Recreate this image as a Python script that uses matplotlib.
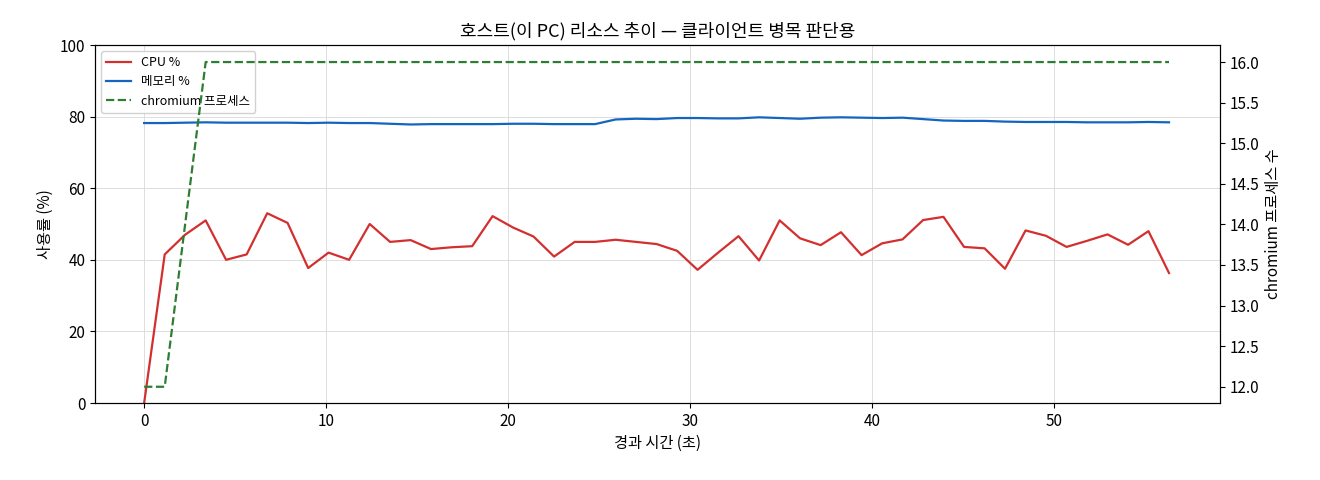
import matplotlib
matplotlib.use("Agg")
import matplotlib.pyplot as plt

plt.rcParams['font.family'] = ['Noto Sans CJK KR', 'DejaVu Sans']

t = [0.0, 1.13, 2.25, 3.38, 4.5, 5.63, 6.76, 7.88, 9.01, 10.13, 11.26, 12.39, 13.51, 14.64, 15.76,
     16.89, 18.02, 19.14, 20.27, 21.39, 22.52, 23.65, 24.77, 25.9, 27.02, 28.15, 29.28, 30.4, 31.53,
     32.65, 33.78, 34.91, 36.03, 37.16, 38.28, 39.41, 40.54, 41.66, 42.79, 43.91, 45.04, 46.17,
     47.29, 48.42, 49.54, 50.67, 51.8, 52.92, 54.05, 55.17, 56.3]
cpu = [0, 41.5, 47, 51, 40, 41.5, 53, 50.3, 37.7, 42, 40, 50, 45, 45.5, 43, 43.5, 43.8, 52.2, 49,
       46.5, 40.9, 45, 45, 45.6, 45, 44.4, 42.5, 37.2, 42, 46.6, 39.8, 51, 46, 44.1, 47.7, 41.3,
       44.6, 45.7, 51.1, 52, 43.6, 43.2, 37.5, 48.2, 46.7, 43.6, 45.3, 47.1, 44.2, 48, 36.3]
mem = [78.2, 78.2, 78.3, 78.4, 78.3, 78.3, 78.3, 78.3, 78.2, 78.3, 78.2, 78.2, 78.0, 77.8, 77.9,
       77.9, 77.9, 77.9, 78.0, 78.0, 77.9, 77.9, 77.9, 79.2, 79.4, 79.3, 79.6, 79.6, 79.5, 79.5,
       79.8, 79.6, 79.4, 79.7, 79.8, 79.7, 79.6, 79.7, 79.3, 78.9, 78.8, 78.8, 78.6, 78.5, 78.5,
       78.5, 78.4, 78.4, 78.4, 78.5, 78.4]
proc = [12, 12, 14, 16] + [16] * 47

fig = plt.figure(figsize=(13.2, 4.8), dpi=100)
ax = fig.add_axes([95/1320, 77/480, 1125/1320, 358/480])
l1, = ax.plot(t, cpu, color='#d32f2f', lw=1.6, label='CPU %')
l2, = ax.plot(t, mem, color='#1565c0', lw=1.6, label='메모리 %')
ax.set_ylim(0, 100)
ax.set_xlim(-2.7, 59.1)
ax.grid(True, color='#dddddd', lw=0.7)
ax.set_xlabel('경과 시간 (초)', fontsize=11)
ax.set_ylabel('사용률 (%)', fontsize=11)
ax.set_title('호스트(이 PC) 리소스 추이 — 클라이언트 병목 판단용', fontsize=13)
ax.tick_params(labelsize=11)
ax2 = ax.twinx()
l3, = ax2.plot(t, proc, color='#2e7d32', lw=1.6, ls='--', label='chromium 프로세스')
ax2.set_ylim(11.8, 16.21)
ax2.set_ylabel('chromium 프로세스 수', fontsize=11)
ax2.tick_params(labelsize=11)
ax.legend(handles=[l1, l2, l3], loc='upper left', fontsize=9, framealpha=0.9)
fig.savefig('out.png', dpi=100)
